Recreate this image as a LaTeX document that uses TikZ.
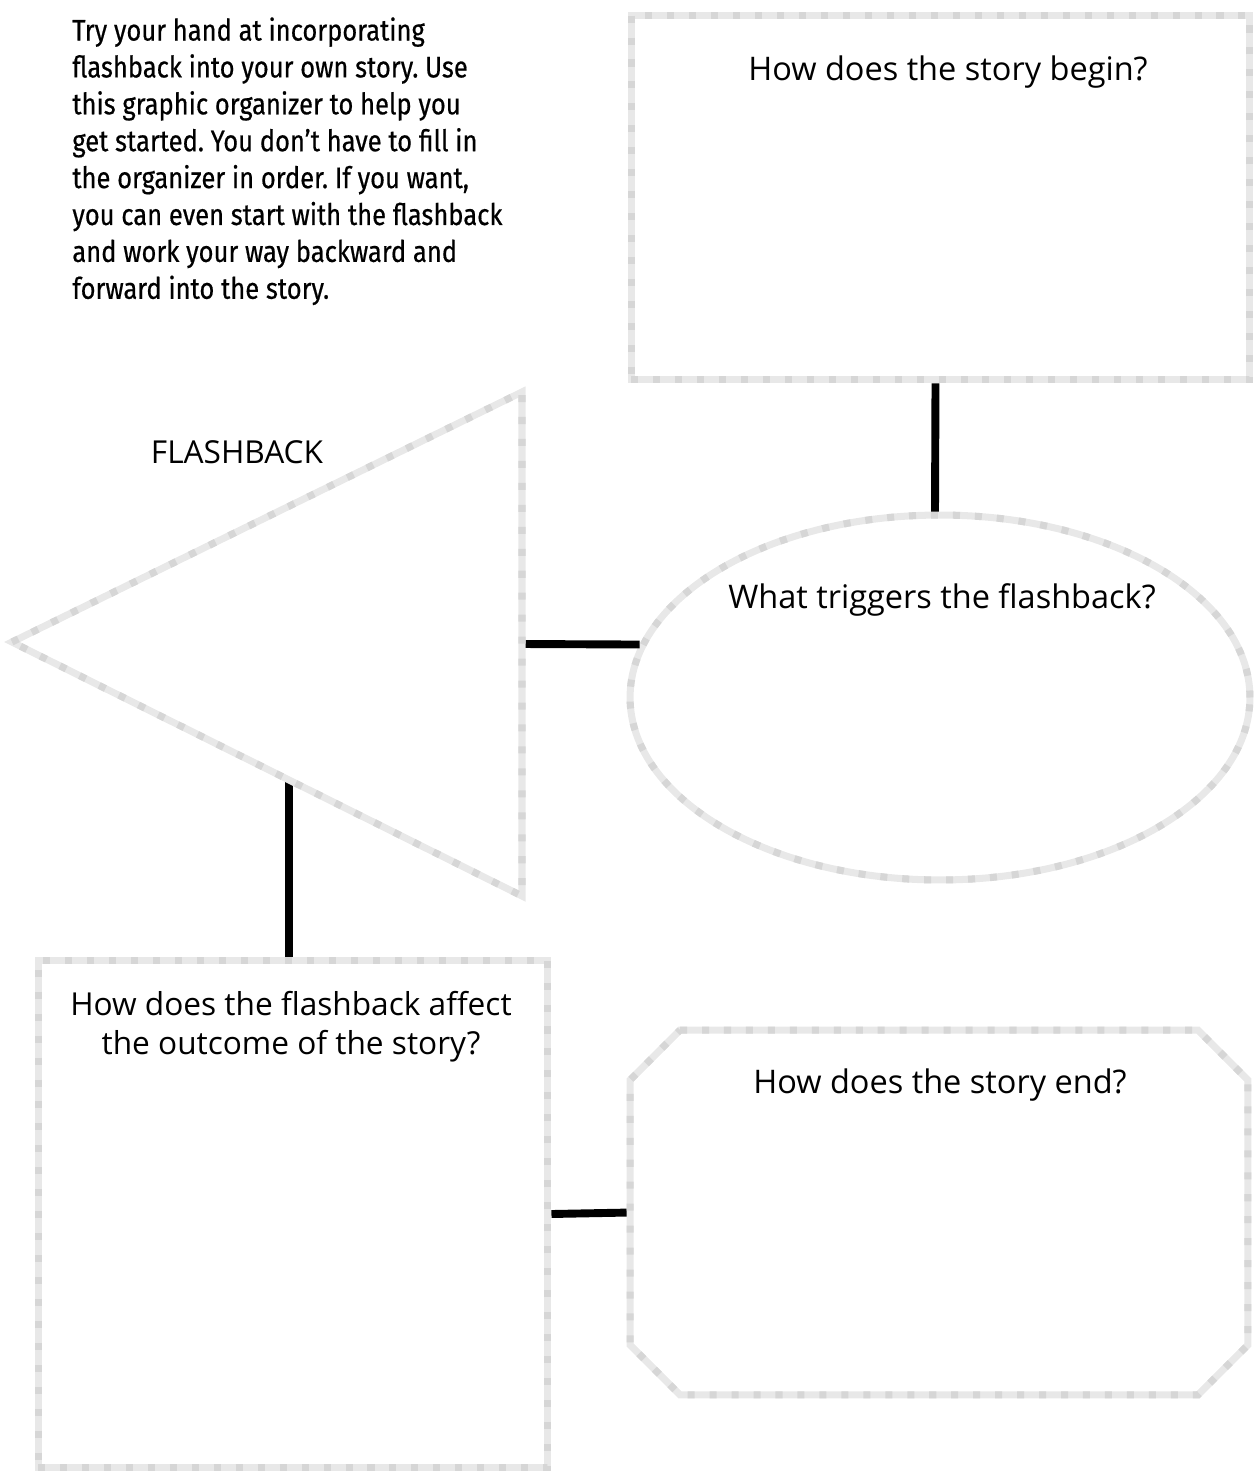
\documentclass[tikz,border=0pt]{standalone}
\usepackage{fontspec}
\setmainfont{Open Sans}
\newfontfamily\introfont[FakeStretch=0.86,FakeBold=0.5]{Fira Sans}
\usetikzlibrary{shapes.geometric,calc}

\definecolor{edgegrey}{HTML}{E8E8E8}
\definecolor{dotgrey}{HTML}{D6D6D6}
\tikzset{
  frame/.style={draw=edgegrey, line width=4pt, inner sep=0pt,
    postaction={draw=dotgrey, line width=4pt, dash pattern=on 4pt off 8.5pt}},
  link/.style={line width=4.5pt},
  prompt/.style={font=\fontsize{18.5}{22}\selectfont, align=center}
}

\begin{document}
\frenchspacing
\begin{tikzpicture}[x=0.02cm, y=-0.02cm]
   \useasboundingbox (0,0) rectangle (1255,1474);
   % intro text
   \node[anchor=north west, inner sep=0pt, align=left,
     font=\introfont\fontsize{16.9}{21}\selectfont] (intro) at (72,17)
     {Try your hand at incorporating\\
      flashback into your own story. Use\\
      this graphic organizer to help you\\
      get started. You don’t have to fill in\\
      the organizer in order. If you want,\\
      you can even start with the flashback\\
      and work your way backward and\\
      forward into the story.};
   % boxes
   \node[frame, rectangle, minimum width=12.38cm, minimum height=7.3cm] (start) at (940.5,197.5) {};
   \node[frame, ellipse, minimum width=12.4cm, minimum height=7.3cm] (trigger) at (940,697.5) {};
   \node[frame, rectangle, minimum width=10.2cm, minimum height=10.16cm] (affect) at (293,1214) {};
   \node[minimum width=12.36cm, minimum height=7.3cm, inner sep=0pt, outer sep=0pt] (ending) at (939,1212.5) {};
   \node[prompt] (start-q) at (948,72) {How does the story begin?};
   \node[prompt] (trigger-q) at (942,600) {What triggers the flashback?};
   \node[prompt, font=\fontsize{18}{22}\selectfont] (affect-q) at (291,1027) {How does the flashback affect\\the outcome of the story?};
   \node[prompt] (ending-q) at (940,1085) {How does the story end?};
   % flashback triangle
   \coordinate (fb-tip) at (12,642);
   \coordinate (fb-top) at (522,392);
   \coordinate (fb-bot) at (522,896);
   \coordinate (fb-right) at ($(fb-top)!0.5!(fb-bot)$);
   \coordinate (fb-low) at ($(fb-tip)!0.543!(fb-bot)$);
   \node[prompt, font=\fontsize{18}{22}\selectfont] (fb-q) at (237,452) {FLASHBACK};
   % connectors
   \draw[link] ([xshift=-0.1cm]start.south) -- ([xshift=-0.1cm]trigger.north);
   \draw[link] (fb-right) -- (trigger.170);
   \draw[link] (fb-low) -- (fb-low |- affect.north);
   \draw[link] (affect.east) -- (ending.west);
   \draw[frame] (fb-tip) -- (fb-top) -- (fb-bot) -- cycle;
   \draw[frame] ([xshift=1cm]ending.north west) -- ([xshift=-1cm]ending.north east)
     -- ([yshift=-1cm]ending.north east) -- ([yshift=1cm]ending.south east)
     -- ([xshift=-1cm]ending.south east) -- ([xshift=1cm]ending.south west)
     -- ([yshift=1cm]ending.south west) -- ([yshift=-1cm]ending.north west) -- cycle;
\end{tikzpicture}
\end{document}
